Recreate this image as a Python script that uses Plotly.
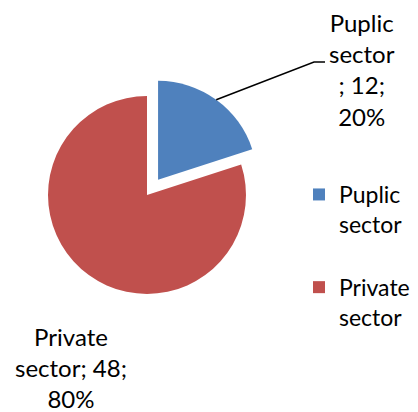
import math
import plotly.graph_objects as go

# ---- data ----
labels = ["Puplic sector", "Private sector"]
values = [12, 48]
colors = ["#4F81BD", "#C0504D"]
pulls = [0.19, 0.0]

# page body has an 8px margin; figure is sized/offset to fill the 418x412 view
OFF = 8
W, H = 418 - OFF, 412 - OFF
FONT = "Lato"
FS = 24
LFS = 23

total = sum(values)
pcts = [round(v / total * 100) for v in values]


def px(x, y):
    """screen pixel -> paper fraction"""
    return (x - OFF) / W, 1 - (y - OFF) / H


# pie geometry (screen pixels)
cx, cy, R = 147, 195, 99
maxpull = max(pulls)
half = R * (1 + maxpull)
x0, y0 = px(cx - half, cy + half)
x1, y1 = px(cx + half, cy - half)

legend_names = [l.replace(" ", "<br>") + "<br> " for l in labels]

fig = go.Figure(go.Pie(
    labels=legend_names,
    values=values,
    sort=False,
    direction="clockwise",
    rotation=0,
    pull=pulls,
    marker=dict(colors=colors, line=dict(width=0)),
    textinfo="none",
    hoverinfo="label+value+percent",
    domain=dict(x=[x0, x1], y=[y0, y1]),
))

# data labels
w0 = labels[0].split(" ")
t0 = f"{w0[0]}<br>{w0[1]}<br>; {values[0]};<br>{pcts[0]}%"
w1 = labels[1].split(" ")
t1 = f"{w1[0]}<br>{w1[1]}; {values[1]};<br>{pcts[1]}%"

ax0, ay0 = px(362, 69)
ax1, ay1 = px(71, 367)
annots = [
    dict(text=t0, x=ax0, y=ay0, xref="paper", yref="paper", showarrow=False,
         xanchor="center", yanchor="middle", align="center",
         font=dict(family=FONT, size=FS, color="black")),
    dict(text=t1, x=ax1, y=ay1, xref="paper", yref="paper", showarrow=False,
         xanchor="center", yanchor="middle", align="center",
         font=dict(family=FONT, size=FS, color="black")),
]

# leader line for first slice, anchored at mid-angle of the pulled slice's arc
theta = 2 * math.pi * (values[0] / 2) / total
ex = cx + R * (1 + pulls[0]) * math.sin(theta)
ey = cy - R * (1 + pulls[0]) * math.cos(theta)
p1 = px(ex, ey)
p2 = px(314, 62)
p3 = px(325, 62)
shapes = [dict(type="path", xref="paper", yref="paper",
               path=f"M {p1[0]} {p1[1]} L {p2[0]} {p2[1]} L {p3[0]} {p3[1]}",
               line=dict(color="black", width=1.5))]

lx, ly = px(299, 173)
fig.update_layout(
    width=W, height=H,
    margin=dict(l=0, r=0, t=0, b=0, autoexpand=False),
    paper_bgcolor="white", plot_bgcolor="white",
    showlegend=True,
    legend=dict(x=lx, y=ly, xanchor="left", yanchor="top",
                valign="top", font=dict(family=FONT, size=LFS, color="black"),
                bgcolor="rgba(0,0,0,0)", itemclick=False),
    annotations=annots,
    shapes=shapes,
)

fig.write_html("out.html")
